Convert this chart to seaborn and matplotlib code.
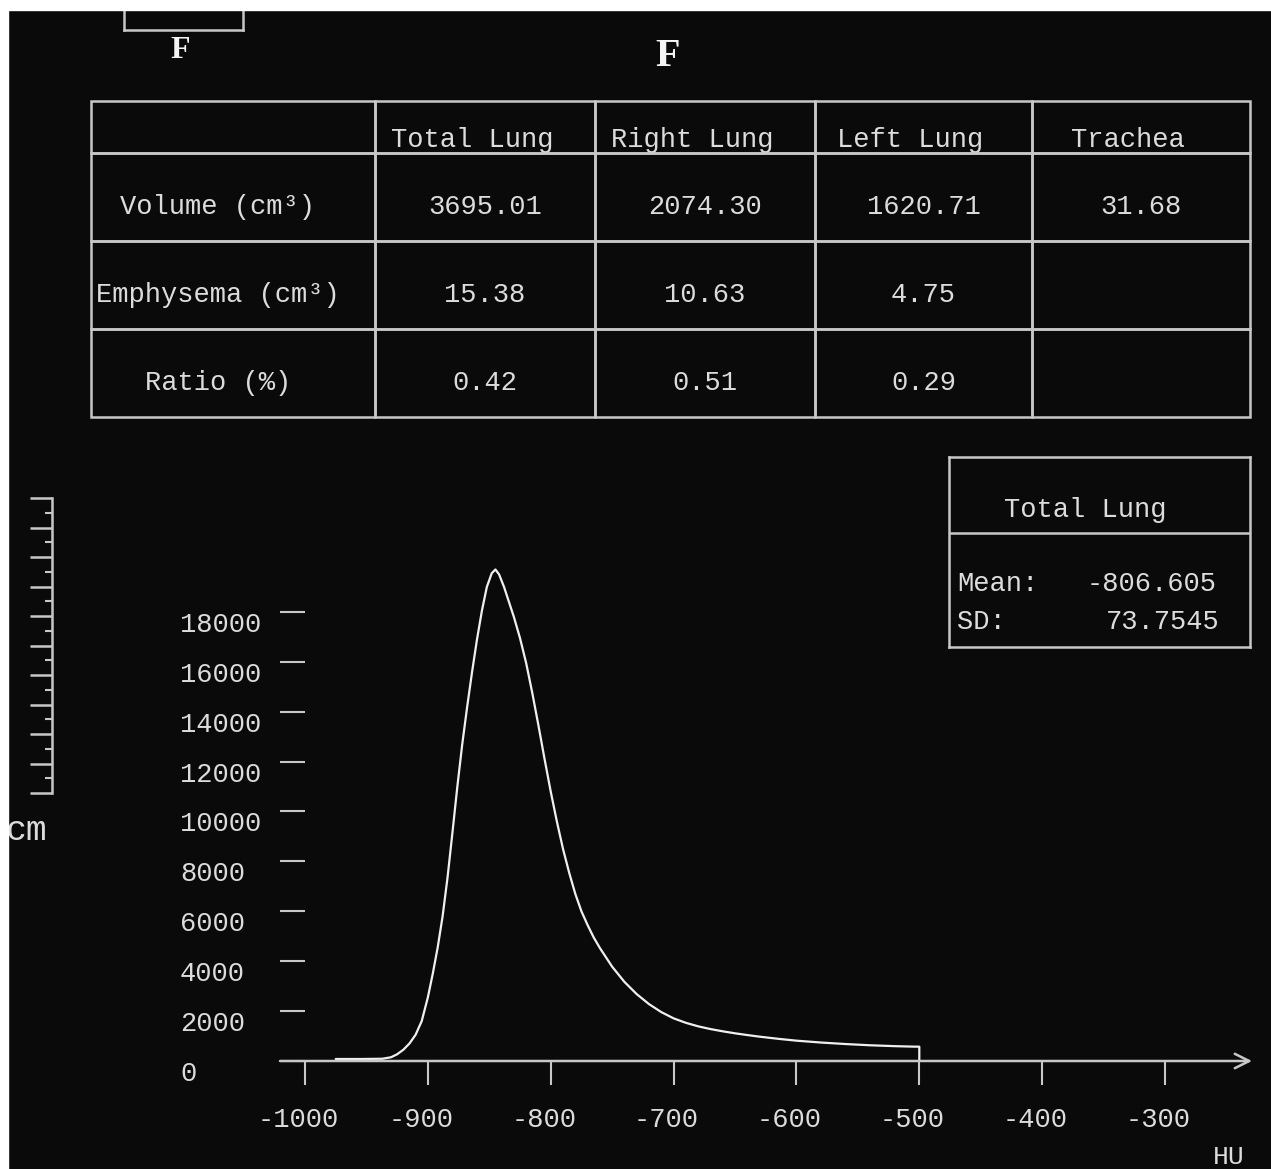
import numpy as np
import pandas as pd
import matplotlib
matplotlib.use("Agg")
import matplotlib.pyplot as plt
import seaborn as sns
from matplotlib.patches import Rectangle
from matplotlib.transforms import Affine2D, ScaledTranslation

# histogram of lung attenuation (HU vs voxel count)
hu = [-975, -955, -937, -930, -925, -920, -915, -910, -905, -900, -896,
      -892, -888, -884, -880, -876, -872, -868, -864, -860, -856, -852,
      -848, -845, -842, -838, -834, -830, -825, -820, -815, -810, -805,
      -800, -795, -790, -785, -780, -775, -770, -765, -760, -750, -740,
      -730, -720, -710, -700, -690, -680, -670, -660, -650, -640, -630,
      -615, -600, -580, -560, -540, -520, -504, -500, -500]
counts = [80, 80, 90, 150, 270, 450, 700, 1050, 1600, 2550, 3500,
          4550, 5800, 7350, 9150, 11000, 12700, 14200, 15600, 16900, 18050, 19000,
          19550, 19700, 19500, 19000, 18400, 17800, 16950, 15950, 14750, 13450, 12100,
          10800, 9600, 8500, 7550, 6700, 6000, 5450, 4950, 4530, 3780, 3170,
          2680, 2280, 1960, 1710, 1530, 1390, 1280, 1190, 1110, 1040, 975,
          890, 815, 740, 680, 630, 595, 575, 575, 0]

x_ticks = [-1000, -900, -800, -700, -600, -500, -400, -300]
y_ticks = [0, 2000, 4000, 6000, 8000, 10000, 12000, 14000, 16000, 18000]

# summary table
col_names = ["Total Lung", "Right Lung", "Left Lung", "Trachea"]
row_names = ["Volume (cm³)", "Emphysema (cm³)", "Ratio (%)"]
volume = [3695.01, 2074.30, 1620.71, 31.68]
emphysema = [15.38, 10.63, 4.75, None]
ratio = [0.42, 0.51, 0.29, None]

stat_title = "Total Lung"
mean_hu = -806.605
sd_hu = 73.7545

ruler_major = list(range(11))
ruler_minor = [i + 0.5 for i in range(10)]

W, H = 1271, 1169
BG = "#0a0a0a"
FG = "#dcdcdc"
LINE = "#c8c8c8"

sns.set_theme(style="white")
plt.rcParams["font.family"] = ["Liberation Mono", "DejaVu Sans"]
plt.rcParams["axes.unicode_minus"] = False
plt.rcParams["axes.facecolor"] = "none"


def fy(py):
    return 1 - py / H


fig = plt.figure(figsize=(W / 100, H / 100), dpi=100, facecolor=BG)

# ---- histogram ----
ax = fig.add_axes([280 / W, fy(1061), 972 / W, 501 / H])
df = pd.DataFrame({"HU": hu, "count": counts})
sns.lineplot(data=df, x="HU", y="count", ax=ax, estimator=None, sort=False,
             color="#f0f0f0", linewidth=1.6)
ax.set_xlim(-1020.35, -229.2)
ax.set_ylim(0, 20080)
for s in ax.spines.values():
    s.set_visible(False)
ax.annotate("", xy=(1, 0), xytext=(0, 0), xycoords="axes fraction",
            arrowprops=dict(arrowstyle="->", color=LINE, lw=1.8,
                            shrinkA=0, shrinkB=0, mutation_scale=26))
ax.set_xticks(x_ticks)
ax.set_xticklabels([str(v) for v in x_ticks])
ax.set_yticks(y_ticks)
ax.set_yticklabels([str(v) for v in y_ticks], ha="left", va="top")
ax.tick_params(axis="x", direction="out", length=17.3, width=1.5, pad=16,
               colors=LINE, labelcolor=FG, labelsize=19.5, bottom=True)
ax.tick_params(axis="y", direction="in", length=18, width=1.5, pad=72,
               colors=LINE, labelcolor=FG, labelsize=19.5, left=True)
shift = ScaledTranslation(-0.07, 0, fig.dpi_scale_trans)
for lbl in ax.get_xticklabels():
    lbl.set_transform(lbl.get_transform() + shift)
ax.set_xlabel("HU", color=FG, fontsize=19)
ax.xaxis.set_label_coords(0.976, -0.192)
ax.xaxis.label.set_va("center")
ax.set_ylabel("")
ax.grid(False)

# ---- table ----
tax = fig.add_axes([91 / W, fy(417), 1159 / W, 316 / H])
tax.axis("off")


def fmt(v):
    return "" if v is None else f"{v:.2f}"


cell_text = [[""] + col_names]
for name, vals in zip(row_names, [volume, emphysema, ratio]):
    cell_text.append([name] + [fmt(v) for v in vals])
widths = [284, 220, 220, 217, 218]
tbl = tax.table(cellText=cell_text, colWidths=[w / 1159 for w in widths],
                cellLoc="center", bbox=[0, 0, 1, 1])
tbl.auto_set_font_size(False)
tbl.set_fontsize(19.5)
for (r, c), cell in tbl.get_celld().items():
    cell.set_edgecolor(LINE)
    cell.set_linewidth(1.8)
    cell.set_facecolor("none")
    cell.set_height(52 if r == 0 else 88)
    txt = cell.get_text()
    txt.set_color(FG)
    if r == 0:
        txt.set_va("top")
        txt.set_transform(Affine2D().translate(-13, 0))
    elif c == 0:
        txt.set_transform(Affine2D().translate(-15, -10))
    else:
        txt.set_transform(Affine2D().translate(0, -10))

# ---- stats box ----
sax = fig.add_axes([949 / W, fy(647), 301 / W, 190 / H])
sax.set_xticks([])
sax.set_yticks([])
sax.set_xlim(0, 1)
sax.set_ylim(0, 1)
for s in sax.spines.values():
    s.set_color(LINE)
    s.set_linewidth(1.8)
sax.axhline(0.6, color=LINE, lw=1.8)
sax.text(0.452, 0.72, stat_title, ha="center", va="center", color=FG, fontsize=19.5)
sax.text(0.027, 0.33, "Mean:", ha="left", va="center", color=FG, fontsize=19.5)
sax.text(0.89, 0.33, f"{mean_hu:.3f}", ha="right", va="center", color=FG, fontsize=19.5)
sax.text(0.027, 0.13, "SD:", ha="left", va="center", color=FG, fontsize=19.5)
sax.text(0.90, 0.13, f"{sd_hu:.4f}", ha="right", va="center", color=FG, fontsize=19.5)

# ---- cm ruler ----
rax = fig.add_axes([52 / W, fy(793), 1 / W, 295 / H])
rax.set_ylim(0, 10)
rax.set_xticks([])
rax.set_yticks(ruler_major)
rax.set_yticks(ruler_minor, minor=True)
rax.set_yticklabels([])
for k, s in rax.spines.items():
    s.set_visible(k == "left")
rax.spines["left"].set_color(LINE)
rax.spines["left"].set_linewidth(1.8)
rax.tick_params(axis="y", which="major", direction="out", length=16, width=1.8, colors=LINE, left=True)
rax.tick_params(axis="y", which="minor", direction="out", length=5, width=1.5, colors=LINE, left=True)
fig.text(47 / W, fy(831), "cm", ha="right", va="center", color=FG, fontsize=25)

# ---- top fragments ----
bax = fig.add_axes([124 / W, fy(30), 119 / W, 20 / H])
bax.set_xticks([])
bax.set_yticks([])
for k, s in bax.spines.items():
    s.set_visible(k != "top")
    s.set_color(LINE)
    s.set_linewidth(1.8)
fig.text(180 / W, fy(50), "F", ha="center", va="center", color="#f4f4f4",
         fontsize=23, family="Liberation Serif", weight="bold")
fig.text(668 / W, fy(57), "F", ha="center", va="center", color="#f4f4f4",
         fontsize=29, family="Liberation Serif", weight="bold")

# white page margin at top and left
fig.add_artist(Rectangle((0, fy(10)), 1, 10 / H, transform=fig.transFigure,
                         color="white", zorder=100))
fig.add_artist(Rectangle((0, 0), 8 / W, 1, transform=fig.transFigure,
                         color="white", zorder=100))

fig.savefig("out.png", dpi=100, facecolor=fig.get_facecolor())
